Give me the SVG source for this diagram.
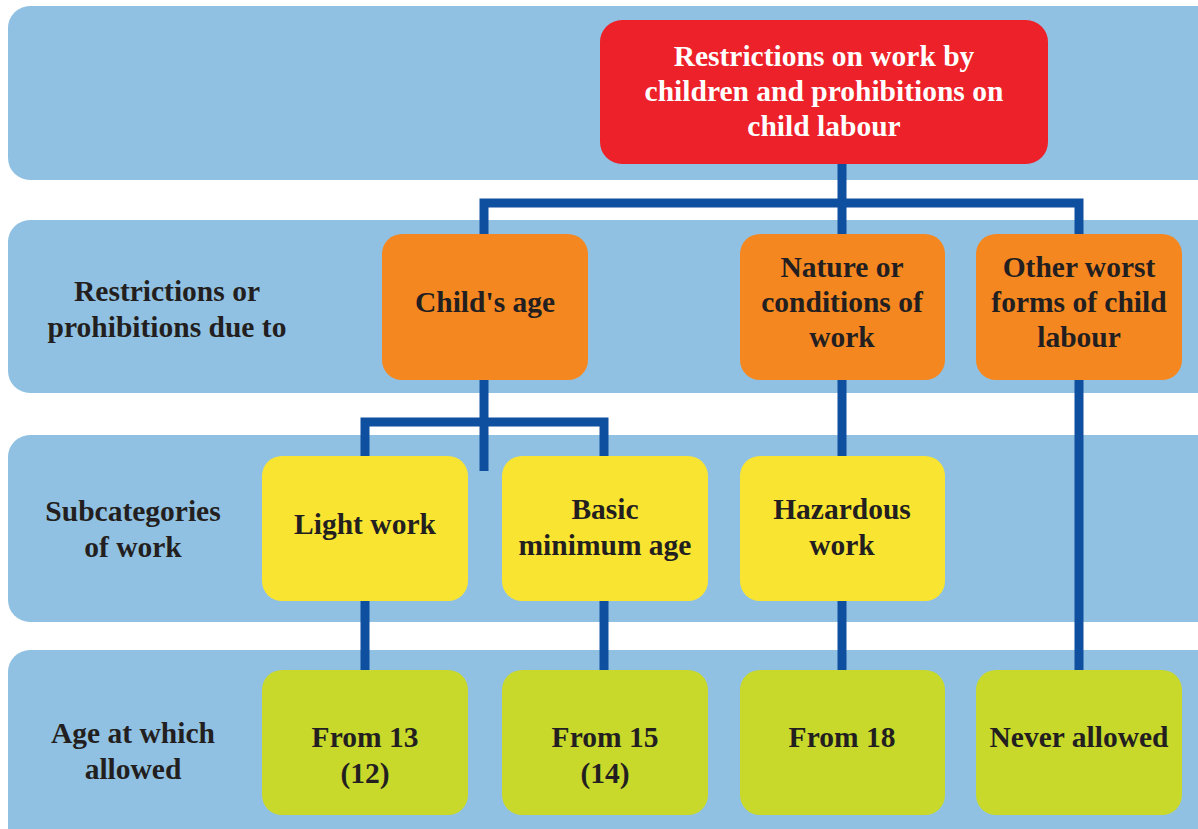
<svg xmlns="http://www.w3.org/2000/svg" width="1198" height="829" viewBox="0 0 1198 829">
  <style>
    .band { fill: #90c1e2; }
    .red { fill: #ed2129; }
    .orange { fill: #f58720; }
    .yellow { fill: #f9e531; }
    .green { fill: #c8d92b; }
    text { font-family: "Liberation Serif", "Times New Roman", serif; font-weight: bold; font-size: 29.5px; text-anchor: middle; dominant-baseline: central; fill: #231f20; }
    .white { fill: #ffffff; }
    .link { fill: none; stroke: #0f4fa0; stroke-width: 9; stroke-linejoin: miter; stroke-linecap: butt; }
  </style>

  <rect width="1198" height="829" fill="#ffffff"/>

  <!-- horizontal bands -->
  <g id="bands">
    <rect class="band" x="8" y="6" width="1210" height="174" rx="22"/>
    <rect class="band" x="8" y="220" width="1210" height="173" rx="22"/>
    <rect class="band" x="8" y="435" width="1210" height="187" rx="22"/>
    <rect class="band" x="8" y="650" width="1210" height="200" rx="22"/>
  </g>

  <!-- row labels -->
  <g id="row-labels">
    <text x="167" y="291">Restrictions or</text>
    <text x="167" y="327">prohibitions due to</text>
    <text x="133" y="511">Subcategories</text>
    <text x="133" y="547">of work</text>
    <text x="133" y="733">Age at which</text>
    <text x="133" y="769">allowed</text>
  </g>

  <!-- connectors -->
  <g id="connectors">
    <path class="link" d="M842,164 V234"/>
    <path class="link" d="M484,234 V203 H1079 V234"/>
    <path class="link" d="M484,380 V471"/>
    <path class="link" d="M365,456 V422 H604 V456"/>
    <path class="link" d="M842,380 V456"/>
    <path class="link" d="M1079,380 V670"/>
    <path class="link" d="M365,601 V670"/>
    <path class="link" d="M604,601 V670"/>
    <path class="link" d="M842,601 V670"/>
  </g>

  <g id="root">
    <rect class="red" x="600" y="20" width="448" height="144" rx="22"/>
    <text class="white" x="824" y="56">Restrictions on work by</text>
    <text class="white" x="824" y="91">children and prohibitions on</text>
    <text class="white" x="824" y="126">child labour</text>
  </g>

  <g id="childs-age">
    <rect class="orange" x="382" y="234" width="206" height="146" rx="20"/>
    <text x="485" y="302">Child's age</text>
  </g>
  <g id="nature-of-work">
    <rect class="orange" x="740" y="234" width="205" height="146" rx="20"/>
    <text x="842" y="267">Nature or</text>
    <text x="842" y="302">conditions of</text>
    <text x="842" y="337">work</text>
  </g>
  <g id="worst-forms">
    <rect class="orange" x="976" y="234" width="206" height="146" rx="20"/>
    <text x="1079" y="267">Other worst</text>
    <text x="1079" y="302">forms of child</text>
    <text x="1079" y="337">labour</text>
  </g>

  <g id="light-work">
    <rect class="yellow" x="262" y="456" width="206" height="145" rx="20"/>
    <text x="365" y="524">Light work</text>
  </g>
  <g id="basic-minimum-age">
    <rect class="yellow" x="502" y="456" width="206" height="145" rx="20"/>
    <text x="605" y="509">Basic</text>
    <text x="605" y="545">minimum age</text>
  </g>
  <g id="hazardous-work">
    <rect class="yellow" x="740" y="456" width="205" height="145" rx="20"/>
    <text x="842" y="509">Hazardous</text>
    <text x="842" y="545">work</text>
  </g>

  <g id="from-13">
    <rect class="green" x="262" y="670" width="206" height="145" rx="20"/>
    <text x="365" y="737">From 13</text>
    <text x="365" y="773">(12)</text>
  </g>
  <g id="from-15">
    <rect class="green" x="502" y="670" width="206" height="145" rx="20"/>
    <text x="605" y="737">From 15</text>
    <text x="605" y="773">(14)</text>
  </g>
  <g id="from-18">
    <rect class="green" x="740" y="670" width="205" height="145" rx="20"/>
    <text x="842" y="737">From 18</text>
  </g>
  <g id="never-allowed">
    <rect class="green" x="976" y="670" width="206" height="145" rx="20"/>
    <text x="1079" y="737">Never allowed</text>
  </g>
</svg>
